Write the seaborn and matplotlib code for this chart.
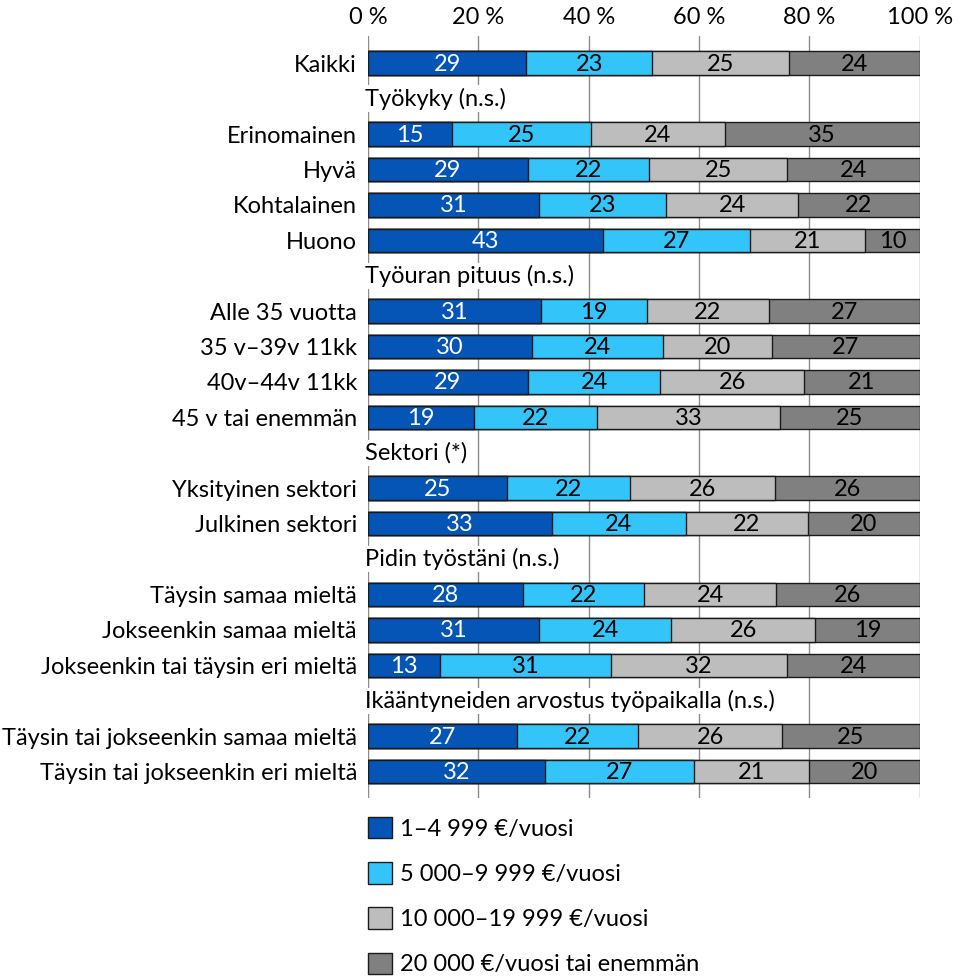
import matplotlib.pyplot as plt
import matplotlib.patches as mpatches
import numpy as np
import pandas as pd
import seaborn as sns

# rows from top to bottom; None marks a group header row (no bar)
row_labels = [
    "Kaikki",
    "Työkyky (n.s.)",
    "Erinomainen", "Hyvä", "Kohtalainen", "Huono",
    "Työuran pituus (n.s.)",
    "Alle 35 vuotta", "35 v–39v 11kk", "40v–44v 11kk", "45 v tai enemmän",
    "Sektori (*)",
    "Yksityinen sektori", "Julkinen sektori",
    "Pidin työstäni (n.s.)",
    "Täysin samaa mieltä", "Jokseenkin samaa mieltä", "Jokseenkin tai täysin eri mieltä",
    "Ikääntyneiden arvostus työpaikalla (n.s.)",
    "Täysin tai jokseenkin samaa mieltä", "Täysin tai jokseenkin eri mieltä",
]
is_header = [False, True, False, False, False, False, True, False, False, False, False,
             True, False, False, True, False, False, False, True, False, False]

s1 = [29, None, 15, 29, 31, 43, None, 31, 30, 29, 19, None, 25, 33, None, 28, 31, 13, None, 27, 32]
s2 = [23, None, 25, 22, 23, 27, None, 19, 24, 24, 22, None, 22, 24, None, 22, 24, 31, None, 22, 27]
s3 = [25, None, 24, 25, 24, 21, None, 22, 20, 26, 33, None, 26, 22, None, 24, 26, 32, None, 26, 21]
s4 = [24, None, 35, 24, 22, 10, None, 27, 27, 21, 25, None, 26, 20, None, 26, 19, 24, None, 25, 20]

series_names = ["1–4 999 €/vuosi", "5 000–9 999 €/vuosi",
                "10 000–19 999 €/vuosi", "20 000 €/vuosi tai enemmän"]
colors = ["#0455B5", "#33C5F9", "#BDBDBD", "#808080"]
text_colors = ["white", "black", "black", "black"]

sns.set_theme(style="white")
plt.rcParams["font.family"] = ["Lato", "DejaVu Sans"]
plt.rcParams["text.color"] = "black"

FS = 17

df = pd.DataFrame({"label": row_labels, "s1": s1, "s2": s2, "s3": s3, "s4": s4}, dtype=object)
cols = ["s1", "s2", "s3", "s4"]
vals = df[cols].astype(float)
pct = vals.div(vals.sum(axis=1), axis=0) * 100
cum = pct.cumsum(axis=1)

fig = plt.figure(figsize=(9.61, 9.8), dpi=100)
ax = fig.add_axes([0.383, 0.186, 0.574, 0.777])

# stacked bars: draw cumulative totals from the widest to the narrowest
for k in range(3, -1, -1):
    plot_df = pd.DataFrame({"label": row_labels, "x": cum[cols[k]]})
    sns.barplot(data=plot_df, x="x", y="label", order=row_labels, color=colors[k],
                saturation=1, width=0.66, edgecolor="#1a1a1a", linewidth=1,
                errorbar=None, orient="h", ax=ax, zorder=3)

# segment value labels
for i in range(len(row_labels)):
    if is_header[i]:
        continue
    left = 0
    for k, c in enumerate(cols):
        w = pct.loc[i, c]
        ax.text(left + w / 2, i + 0.03, f"{int(vals.loc[i, c])}", ha="center", va="center",
                color=text_colors[k], fontsize=FS, zorder=5)
        left += w

# group headers written inside the plot area
for i, lab in enumerate(row_labels):
    if is_header[i]:
        ax.text(-0.5, i, lab, ha="left", va="center", fontsize=FS, zorder=6,
                bbox=dict(facecolor="white", edgecolor="none", pad=1.5))

ax.set_xlim(0, 100)
ax.set_ylim(len(row_labels) - 0.26, -0.76)
ax.set_xticks(np.arange(0, 101, 20))
ax.set_xticklabels([f"{t} %" for t in range(0, 101, 20)])
ax.xaxis.tick_top()
ax.tick_params(axis="x", length=0, pad=6, labelsize=FS, colors="black")
ax.set_yticks(range(len(row_labels)))
ax.set_yticklabels(["" if h else lab for lab, h in zip(row_labels, is_header)])
ax.tick_params(axis="y", length=0, pad=8, labelsize=FS, colors="black")
ax.set_xlabel("")
ax.set_ylabel("")
for sp in ax.spines.values():
    sp.set_visible(False)
ax.grid(axis="x", color="#8c8c8c", linewidth=1, zorder=0)
ax.grid(axis="y", visible=False)
ax.set_axisbelow(True)

handles = [mpatches.Patch(facecolor=colors[k], edgecolor="#1a1a1a", linewidth=1, label=series_names[k])
           for k in range(4)]
fig.legend(handles=handles, loc="upper left", bbox_to_anchor=(0.383, 0.166), frameon=False,
           fontsize=FS, handlelength=1.0, handleheight=1.0, handletextpad=0.35,
           labelspacing=0.95, borderaxespad=0, borderpad=0)

fig.savefig("out.png", dpi=100)
